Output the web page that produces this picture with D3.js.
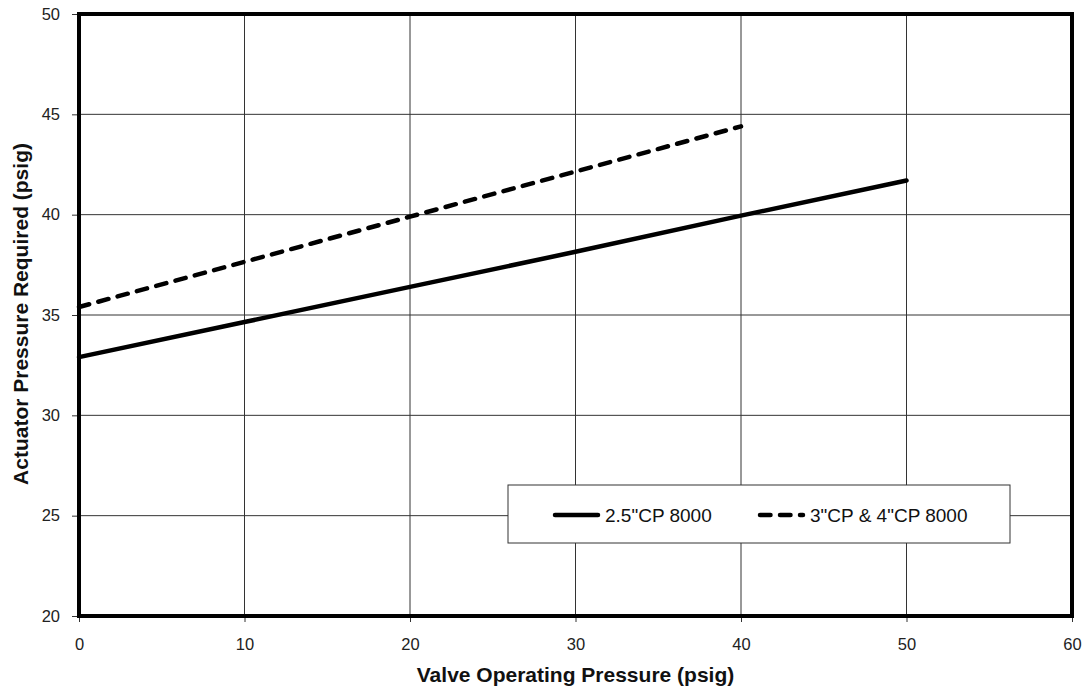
<!DOCTYPE html>
<html>
<head>
<meta charset="utf-8">
<script src="https://cdn.jsdelivr.net/npm/d3@7"></script>
<style>
  body { margin: 0; background: #fff; }
  svg { font-family: "Liberation Sans", Arial, sans-serif; }
</style>
</head>
<body>
<svg id="chart" width="1086" height="691"></svg>
<script>
// data
const seriesNames = ['2.5"CP 8000', '3"CP & 4"CP 8000'];
const smallX = [0, 10, 20, 30, 40, 50];
const smallY = [32.9, 34.65, 36.4, 38.15, 39.95, 41.7];
const largeX = [0, 10, 20, 30, 40];
const largeY = [35.4, 37.65, 39.9, 42.15, 44.4];
const xTicks = [0, 10, 20, 30, 40, 50, 60];
const yTicks = [20, 25, 30, 35, 40, 45, 50];

const width = 1086;
const height = 691;
const margin = {top: 14, right: 14, bottom: 75, left: 79};
const svg = d3.select("#chart");

const x = d3.scaleLinear().domain([0, 60]).range([margin.left, width - margin.right]);
const y = d3.scaleLinear().domain([20, 50]).range([height - margin.bottom, margin.top]);

const grid = svg.append("g");
grid.selectAll(".vgrid")
    .data(xTicks.slice(1, -1))
    .enter()
    .append("line")
    .attr("x1", d => x(d)).attr("x2", d => x(d))
    .attr("y1", y(20)).attr("y2", y(50))
    .attr("stroke", "#333")
    .attr("stroke-width", 1);
grid.selectAll(".hgrid")
    .data(yTicks.slice(1, -1))
    .enter()
    .append("line")
    .attr("x1", x(0)).attr("x2", x(60))
    .attr("y1", d => y(d)).attr("y2", d => y(d))
    .attr("stroke", "#333")
    .attr("stroke-width", 1);

// axes
const xAxis = svg.append("g")
    .attr("transform", "translate(0," + y(20) + ")")
    .call(d3.axisBottom(x).tickValues(xTicks).tickSize(6).tickPadding(16));
const yAxis = svg.append("g")
    .attr("transform", "translate(" + x(0) + ",0)")
    .call(d3.axisLeft(y).tickValues(yTicks).tickSize(7).tickPadding(12));
[xAxis, yAxis].forEach(a => {
    a.attr("font-size", 16.5).attr("font-family", "Liberation Sans, Arial, sans-serif");
    a.select(".domain").remove();
    a.selectAll("line").attr("stroke", "#333");
    a.selectAll("text").attr("fill", "#222");
});

// lines
const line = d3.line().x(d => x(d[0])).y(d => y(d[1]));
svg.append("path")
    .datum(d3.zip(smallX, smallY))
    .attr("d", line)
    .attr("fill", "none")
    .attr("stroke", "#000")
    .attr("stroke-width", 4.5)
    .attr("stroke-linecap", "round");
svg.append("path")
    .datum(d3.zip(largeX, largeY))
    .attr("d", line)
    .attr("fill", "none")
    .attr("stroke", "#000")
    .attr("stroke-width", 4.5)
    .attr("stroke-linecap", "round")
    .attr("stroke-dasharray", "10.5,9.5");

// frame
svg.append("rect")
    .attr("x", x(0)).attr("y", y(50))
    .attr("width", x(60) - x(0))
    .attr("height", y(20) - y(50))
    .attr("fill", "none")
    .attr("stroke", "#000")
    .attr("stroke-width", 4);

// legend
const legend = svg.append("g").attr("transform", "translate(508,485)");
legend.append("rect")
    .attr("width", 502).attr("height", 58)
    .attr("fill", "#fff")
    .attr("stroke", "#333")
    .attr("stroke-width", 1);
const items = [{x: 45, dash: null}, {x: 250, dash: "10.5,9.5"}];
items.forEach((it, i) => {
    legend.append("line")
        .attr("x1", it.x + 2).attr("x2", it.x + 45)
        .attr("y1", 30).attr("y2", 30)
        .attr("stroke", "#000")
        .attr("stroke-width", 4.5)
        .attr("stroke-linecap", "round")
        .attr("stroke-dasharray", it.dash);
    legend.append("text")
        .attr("x", it.x + 52).attr("y", 37)
        .attr("font-size", 19)
        .attr("fill", "#111")
        .text(seriesNames[i]);
});

// axis titles
svg.append("text")
    .attr("x", (x(0) + x(60)) / 2)
    .attr("y", 682)
    .attr("text-anchor", "middle")
    .attr("font-size", 21)
    .attr("font-weight", "bold")
    .attr("fill", "#111")
    .text("Valve Operating Pressure (psig)");
svg.append("text")
    .attr("transform", "translate(28,314) rotate(-90)")
    .attr("text-anchor", "middle")
    .attr("font-size", 21)
    .attr("font-weight", "bold")
    .attr("fill", "#111")
    .text("Actuator Pressure Required (psig)");
</script>
</body>
</html>
